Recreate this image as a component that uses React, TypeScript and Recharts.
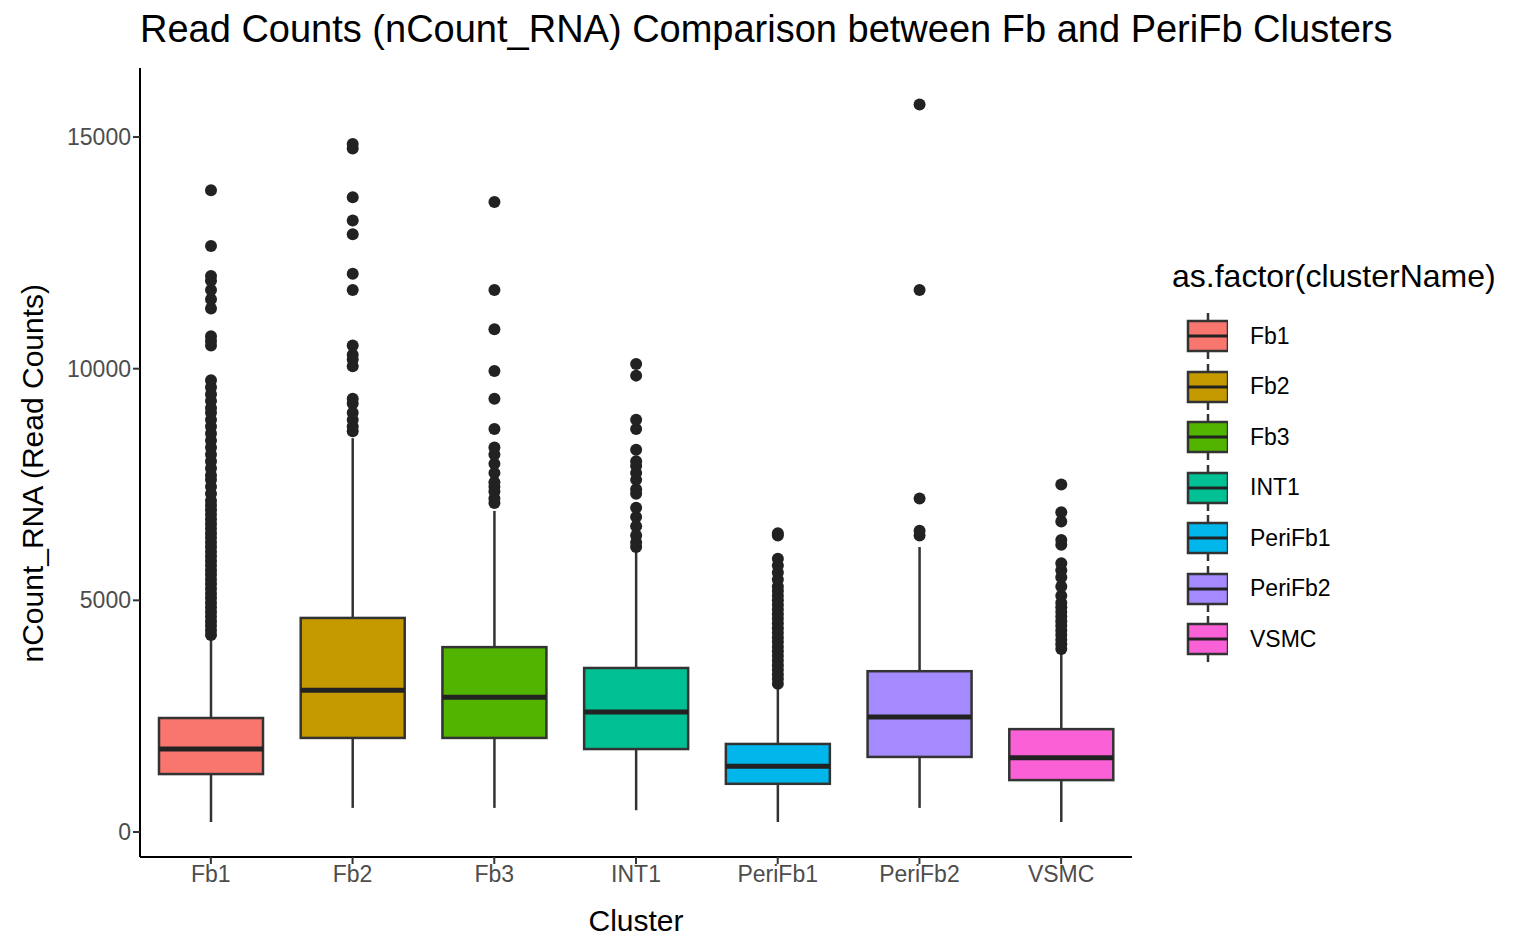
import React from "react";
import { ComposedChart, Bar, XAxis, YAxis } from "recharts";

const clusters = ["Fb1", "Fb2", "Fb3", "INT1", "PeriFb1", "PeriFb2", "VSMC"];
const colors = ["#F8766D", "#C49A00", "#53B400", "#00C094", "#00B6EB", "#A58AFF", "#FB61D7"];
const mins = [216, 520, 520, 470, 216, 520, 216];
const q1s = [1250, 2030, 2030, 1790, 1040, 1620, 1120];
const medians = [1790, 3060, 2910, 2590, 1420, 2480, 1600];
const q3s = [2460, 4620, 3990, 3540, 1900, 3470, 2220];
const maxs = [4200, 8500, 6930, 6060, 3150, 6150, 3900];
const outliers = [
  [4250, 4350, 4450, 4550, 4650, 4750, 4850, 4950, 5050, 5150, 5250, 5350, 5450, 5550, 5650, 5750, 5850, 5950, 6050, 6150, 6250, 6350, 6450, 6550, 6650, 6750, 6850, 6950, 7050, 7150, 7300, 7450, 7600, 7700, 7850, 8000, 8150, 8300, 8450, 8600, 8750, 8900, 9050, 9150, 9300, 9450, 9600, 9750, 10500, 10600, 10700, 11300, 11500, 11700, 11900, 12000, 12650, 13850],
  [8650, 8750, 8900, 9050, 9250, 9350, 10050, 10200, 10300, 10500, 11700, 12050, 12900, 13200, 13700, 14750, 14850],
  [7100, 7200, 7350, 7450, 7550, 7750, 7950, 8150, 8300, 8700, 9350, 9950, 10850, 11700, 13600],
  [6150, 6250, 6400, 6600, 6800, 7000, 7300, 7400, 7600, 7750, 7900, 8000, 8250, 8700, 8900, 9850, 10100],
  [3200, 3300, 3400, 3500, 3600, 3700, 3800, 3900, 4000, 4100, 4200, 4300, 4400, 4500, 4600, 4700, 4800, 4900, 5000, 5100, 5200, 5300, 5450, 5600, 5750, 5900, 6400, 6450],
  [6400, 6500, 7200, 11700, 15700],
  [3950, 4050, 4150, 4250, 4350, 4450, 4550, 4650, 4750, 4850, 4950, 5100, 5300, 5500, 5650, 5800, 6200, 6300, 6700, 6900, 7500],
];
const yTicks = [0, 5000, 10000, 15000];

const data = clusters.map((c, i) => ({
  cluster: c,
  color: colors[i],
  min: mins[i],
  q1: q1s[i],
  median: medians[i],
  q3: q3s[i],
  max: maxs[i],
  outliers: outliers[i],
}));

function BoxShape(props: any) {
  const { x, y, width, height, payload } = props;
  const d = payload;
  const ppu = height / (d.q3 - d.q1);
  const py = (v: number) => y + (d.q3 - v) * ppu;
  const cx = x + width / 2;
  return (
    <g>
      <line x1={cx} x2={cx} y1={py(d.max)} y2={py(d.q3)} stroke="#333" strokeWidth={2.5} />
      <line x1={cx} x2={cx} y1={py(d.q1)} y2={py(d.min)} stroke="#333" strokeWidth={2.5} />
      <rect x={x} y={y} width={width} height={height} fill={d.color} stroke="#333" strokeWidth={2.5} />
      <line x1={x} x2={x + width} y1={py(d.median)} y2={py(d.median)} stroke="#222" strokeWidth={5} />
      {d.outliers.map((v: number, k: number) => (
        <circle key={k} cx={cx} cy={py(v)} r={6} fill="#222" />
      ))}
    </g>
  );
}

export default function App() {
  const font = "Helvetica, Arial, 'Liberation Sans', sans-serif";
  return (
    <div style={{ position: "absolute", left: 0, top: 0, width: 1540, height: 951, background: "#fff", fontFamily: font }}>
      <div style={{ position: "absolute", left: 140, top: 8, fontSize: 38, color: "#000", whiteSpace: "nowrap" }}>
        Read Counts (nCount_RNA) Comparison between Fb and PeriFb Clusters
      </div>
      <ComposedChart width={1540} height={951} data={data} margin={{ top: 68, right: 408, bottom: 4, left: 0 }} barSize={104}>
        <XAxis
          dataKey="cluster"
          height={90}
          stroke="#000"
          strokeWidth={2}
          tickLine={{ stroke: "#333" }}
          tick={{ fill: "#4d4d4d", fontSize: 23, fontFamily: font }}
          tickSize={7}
          label={{ value: "Cluster", position: "insideBottom", offset: 16, fontSize: 30, fill: "#000", fontFamily: font }}
        />
        <YAxis
          type="number"
          domain={[-540, 16490]}
          ticks={yTicks}
          width={140}
          stroke="#000"
          strokeWidth={2}
          tickLine={{ stroke: "#333" }}
          tick={{ fill: "#4d4d4d", fontSize: 23, fontFamily: font }}
          tickSize={7}
          label={{ value: "nCount_RNA (Read Counts)", angle: -90, position: "insideLeft", offset: 32, dy: 200, fontSize: 30, fill: "#000", fontFamily: font }}
        />
        <Bar dataKey={(d: any) => [d.q1, d.q3]} shape={BoxShape} isAnimationActive={false} />
      </ComposedChart>
      <div style={{ position: "absolute", left: 1172, top: 258 }}>
        <div style={{ fontSize: 32, marginBottom: 16, whiteSpace: "nowrap" }}>as.factor(clusterName)</div>
        {clusters.map((c, i) => (
          <div key={c} style={{ display: "flex", alignItems: "center", height: 50.5 }}>
            <svg width={56} height={50}>
              <line x1={36} x2={36} y1={2} y2={48} stroke="#333" strokeWidth={2.5} />
              <rect x={16} y={10} width={40} height={30} fill={colors[i]} stroke="#333" strokeWidth={2.5} />
              <line x1={16} x2={56} y1={25} y2={25} stroke="#222" strokeWidth={3} />
            </svg>
            <span style={{ fontSize: 23, marginLeft: 22 }}>{c}</span>
          </div>
        ))}
      </div>
    </div>
  );
}
